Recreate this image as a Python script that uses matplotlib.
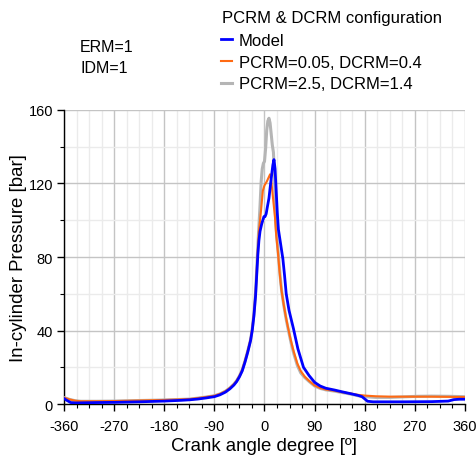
import numpy as np
import matplotlib
matplotlib.use("Agg")
import matplotlib.pyplot as plt
from matplotlib.ticker import MultipleLocator

plt.rcParams['font.family'] = ['Liberation Sans', 'DejaVu Sans']
plt.rcParams['axes.unicode_minus'] = False

# crank angle [deg] / pressure [bar]
model_ang = [-360, -355, -348, -340, -300, -270, -225, -180, -150, -134, -120, -105, -90, -80, -70,
             -62, -55, -50, -45, -40, -35, -30, -25, -22, -19, -16, -14, -12, -10, -8, -5, -3, -1,
             1, 3, 5, 8, 11, 13, 15, 17, 19, 21, 23, 25, 29, 33, 36, 39, 44, 52, 60, 70, 80, 90,
             100, 110, 126, 140, 155, 168, 175, 180, 185, 195, 250, 300, 330, 340, 350, 360]
model_p = [3.0, 2.0, 0.8, 0.6, 0.8, 0.9, 1.2, 1.6, 2.0, 2.3, 2.7, 3.3, 4.0, 5.0, 6.5,
           8.3, 10.3, 12.2, 14.8, 18.0, 22.8, 28.3, 34.5, 40, 48, 59, 70, 81, 89, 94, 98, 100, 102,
           102, 103.5, 107, 112, 120, 125, 130, 133, 128, 116, 104, 95, 87, 79, 70, 60, 51, 41, 30, 20, 15.5, 11.8,
           9.8, 8.6, 7.6, 6.6, 5.6, 4.7, 4.0, 2.8, 1.5, 1.2, 1.2, 1.3, 1.6, 2.4, 2.6, 2.6]

low_ang = [-360, -350, -340, -330, -300, -270, -225, -180, -150, -134, -120, -105, -90, -80, -70,
           -62, -55, -50, -45, -40, -35, -30, -25, -22, -19, -16, -14, -12, -10, -8, -6, -3, 0,
           2, 4, 7, 10, 12, 14, 17, 19, 21, 24, 27, 30, 34, 38, 42, 47, 52, 59, 65, 72, 80, 90,
           100, 110, 126, 140, 155, 168, 180, 200, 225, 250, 275, 300, 330, 360]
low_p = [3.5, 2.5, 1.8, 1.5, 1.5, 1.6, 1.9, 2.2, 2.5, 2.7, 3.2, 3.8, 4.5, 5.5, 7.0,
         8.8, 10.8, 12.7, 15.3, 18.6, 23.5, 29, 35, 41, 49, 60, 72, 84, 94, 100, 106, 116, 119,
         120, 121, 123, 125, 122, 116, 107, 101, 92, 83, 72, 63, 55, 48, 42, 35, 29, 22, 18, 15, 12.6, 10.1,
         8.7, 7.9, 7.2, 6.4, 5.7, 5.0, 4.6, 4.2, 4.0, 4.0, 4.0, 4.0, 3.9, 3.8]

high_ang = [-360, -350, -340, -330, -300, -270, -225, -180, -150, -134, -120, -105, -90, -80, -70,
            -62, -55, -50, -45, -40, -35, -30, -25, -22, -19, -16, -14, -12, -10, -8, -6, -4, -2, 0,
            2, 4, 6, 8, 10, 12, 14, 16, 18, 20, 22, 25, 28, 31, 35, 39, 43, 48, 53, 59, 65, 72, 80, 90,
            100, 110, 126, 140, 155, 168, 180, 200, 225, 250, 275, 300, 330, 360]
high_p = [3.5, 2.5, 1.8, 1.5, 1.5, 1.6, 1.9, 2.2, 2.5, 2.7, 3.2, 3.8, 4.5, 5.5, 7.0,
          8.8, 10.8, 12.7, 15.3, 18.6, 23.5, 29, 35, 41, 49, 61, 73, 86, 97, 108, 121, 128, 131, 132,
          139, 149, 154, 155.5, 153, 147, 141, 137, 125, 100, 91, 81, 70, 61, 53, 46, 40, 33, 27, 21, 17, 14.5, 12.3, 9.8,
          8.5, 7.7, 7.0, 6.2, 5.4, 4.5, 4.0, 3.6, 3.6, 3.9, 4.2, 4.3, 4.2, 4.0]

fig = plt.figure(figsize=(4.77, 4.56), dpi=100)
ax = fig.add_axes([0.1342, 0.1118, 0.8406, 0.6448])

g, = ax.plot(high_ang, high_p, color='#b5b5b5', lw=2.2, label='PCRM=2.5, DCRM=1.4', zorder=3)
o, = ax.plot(low_ang, low_p, color='#ff6a13', lw=1.5, label='PCRM=0.05, DCRM=0.4', zorder=4)
b, = ax.plot(model_ang, model_p, color='#0000ff', lw=2.0, label='Model', zorder=5)

ax.set_xlim(-360, 360)
ax.set_ylim(0, 160)
ax.xaxis.set_major_locator(MultipleLocator(90))
ax.xaxis.set_minor_locator(MultipleLocator(22.5))
ax.yaxis.set_major_locator(MultipleLocator(40))
ax.yaxis.set_minor_locator(MultipleLocator(20))
ax.grid(which='major', color='#c4c4c4', lw=1.0)
ax.grid(which='minor', color='#ebebeb', lw=1.0)
ax.set_axisbelow(True)
for s in ['top', 'right']:
    ax.spines[s].set_visible(False)
for s in ['left', 'bottom']:
    ax.spines[s].set_color('black')
    ax.spines[s].set_linewidth(1.0)
ax.tick_params(which='major', direction='out', length=5, width=1, labelsize=10.5, pad=3)
ax.tick_params(axis='x', which='major', pad=6)
ax.tick_params(which='minor', direction='out', length=3, width=0.8)

ax.set_xlabel('Crank angle degree [º]', fontsize=13.4, labelpad=2.5)
ax.set_ylabel('In-cylinder Pressure [bar]', fontsize=13.4, labelpad=1)

fig.text(222 / 477, 1 - 18.5 / 456, 'PCRM & DCRM configuration', fontsize=12, va='center')
fig.legend(handles=[b, o, g], loc='upper left',
           bbox_to_anchor=(221 / 477, 1 - 34 / 456), frameon=False, fontsize=12,
           handlelength=0.66, handletextpad=0.4, labelspacing=0.4,
           borderpad=0, borderaxespad=0)

fig.text(80 / 477, 1 - 48 / 456, 'ERM=1', fontsize=11.5, va='center')
fig.text(80 / 477, 1 - 68.5 / 456, 'IDM=1', fontsize=11.5, va='center')

fig.savefig('out.png', dpi=100)
